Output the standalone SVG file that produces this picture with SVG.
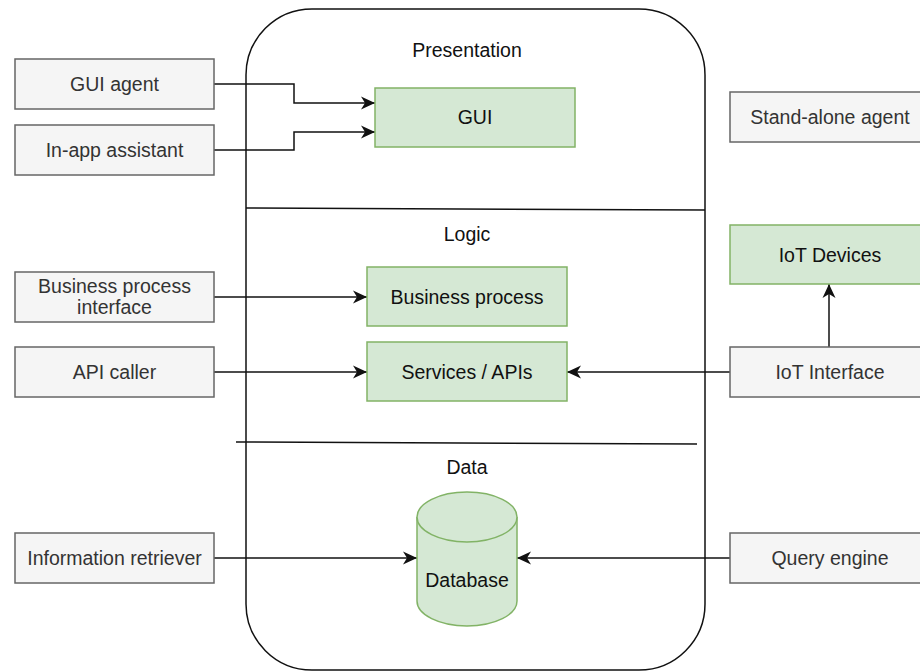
<svg xmlns="http://www.w3.org/2000/svg" width="920" height="672" viewBox="0 0 920 672">
<defs>
<style>
.gray{fill:#f5f5f5;stroke:#666666;stroke-width:1.5}
.green{fill:#d5e8d4;stroke:#82b366;stroke-width:1.5}
.t{font-family:"Liberation Sans",Arial,sans-serif;font-size:19.5px;text-anchor:middle}
.tg{fill:#333333}
.tk{fill:#111111}
.conn{fill:none;stroke:#111111;stroke-width:1.5}
.frame{fill:none;stroke:#111111;stroke-width:1.5}
</style>
<marker id="arr" markerUnits="userSpaceOnUse" markerWidth="18" markerHeight="16" viewBox="0 -8 16 16" refX="14" refY="0" orient="auto">
<path d="M0,-6.5 L14,0 L0,6.5 L4,0 z" fill="#111111"/>
</marker>
</defs>
<rect width="920" height="672" fill="#ffffff"/>
<g id="container">
<rect class="frame" x="246" y="9" width="459" height="661" rx="66" ry="66"/>
<line class="frame" x1="246" y1="208" x2="705" y2="210"/>
<line class="frame" x1="236" y1="442" x2="697" y2="444"/>
<text class="t tk" x="467" y="57">Presentation</text>
<text class="t tk" x="467" y="241">Logic</text>
<text class="t tk" x="467" y="474">Data</text>
</g>
<g id="connectors">
<path class="conn" d="M214,84 H294 V103 H375" marker-end="url(#arr)"/>
<path class="conn" d="M214,150 H294 V132 H375" marker-end="url(#arr)"/>
<path class="conn" d="M214,297 H367" marker-end="url(#arr)"/>
<path class="conn" d="M214,372 H367" marker-end="url(#arr)"/>
<path class="conn" d="M730,372 H567" marker-end="url(#arr)"/>
<path class="conn" d="M829,347 V284" marker-end="url(#arr)"/>
<path class="conn" d="M214,558 H417" marker-end="url(#arr)"/>
<path class="conn" d="M730,558 H517" marker-end="url(#arr)"/>
</g>
<g id="gui-agent"><rect class="gray" x="15" y="59" width="199" height="50"/><text class="t tg" x="114.5" y="91">GUI agent</text></g>
<g id="in-app-assistant"><rect class="gray" x="15" y="125" width="199" height="50"/><text class="t tg" x="114.5" y="157">In-app assistant</text></g>
<g id="business-process-interface"><rect class="gray" x="15" y="272" width="199" height="50"/><text class="t tg" x="114.5" y="293">Business process</text><text class="t tg" x="114.5" y="314">interface</text></g>
<g id="api-caller"><rect class="gray" x="15" y="347" width="199" height="50"/><text class="t tg" x="114.5" y="379">API caller</text></g>
<g id="information-retriever"><rect class="gray" x="15" y="533" width="199" height="50"/><text class="t tg" x="114.5" y="565">Information retriever</text></g>
<g id="gui"><rect class="green" x="375" y="88" width="200" height="59"/><text class="t tk" x="475" y="124">GUI</text></g>
<g id="business-process"><rect class="green" x="367" y="267" width="200" height="59"/><text class="t tk" x="467" y="304">Business process</text></g>
<g id="services-apis"><rect class="green" x="367" y="342" width="200" height="59"/><text class="t tk" x="467" y="379">Services / APIs</text></g>
<g id="database">
<path class="green" d="M417,517 A50,25 0 0 1 517,517 V601 A50,25 0 0 1 417,601 Z"/>
<path class="green" d="M417,517 A50,25 0 0 0 517,517" fill="none"/>
<text class="t tk" x="467" y="587">Database</text>
</g>
<g id="stand-alone-agent"><rect class="gray" x="730" y="92" width="200" height="50"/><text class="t tg" x="830" y="124">Stand-alone agent</text></g>
<g id="iot-devices"><rect class="green" x="730" y="225" width="200" height="59"/><text class="t tk" x="830" y="262">IoT Devices</text></g>
<g id="iot-interface"><rect class="gray" x="730" y="347" width="200" height="50"/><text class="t tg" x="830" y="379">IoT Interface</text></g>
<g id="query-engine"><rect class="gray" x="730" y="533" width="200" height="50"/><text class="t tg" x="830" y="565">Query engine</text></g>
</svg>
